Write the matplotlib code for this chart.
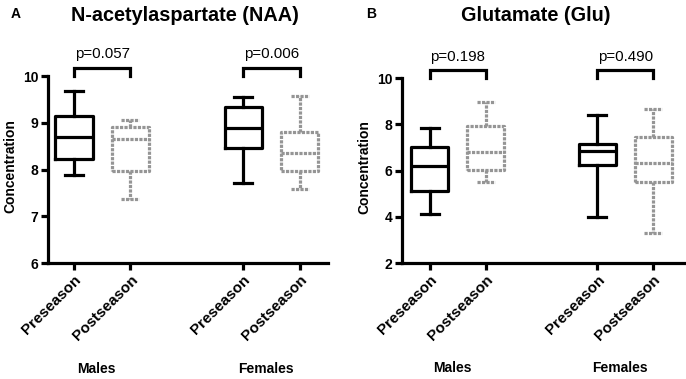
import matplotlib.pyplot as plt
from matplotlib.transforms import ScaledTranslation

plt.rcParams['font.family'] = ['Liberation Sans', 'DejaVu Sans']

groups = ['Males', 'Females']
seasons = ['Preseason', 'Postseason']
positions = [1, 2, 4, 5]

# box stats: (low whisker, Q1, median, Q3, high whisker)
naa_stats = [
    (7.88, 8.22, 8.69, 9.15, 9.69),   # males pre
    (7.38, 7.98, 8.65, 8.92, 9.06),   # males post
    (7.71, 8.47, 8.89, 9.34, 9.56),   # females pre
    (7.59, 7.98, 8.36, 8.80, 9.57),   # females post
]
glu_stats = [
    (4.11, 5.11, 6.20, 7.01, 7.85),
    (5.51, 6.02, 6.81, 7.94, 8.96),
    (3.97, 6.23, 6.85, 7.17, 8.41),
    (3.28, 5.51, 6.32, 7.46, 8.67),
]
naa_p = ['p=0.057', 'p=0.006']
glu_p = ['p=0.198', 'p=0.490']

panels = [
    dict(letter='A', title='N-acetylaspartate (NAA)', stats=naa_stats, pvals=naa_p,
         ylim=(6, 10), yticks=[6, 7, 8, 9, 10],
         rect=[0.070, 0.306, 0.408, 0.493], xlim=(0.54, 5.5),
         letter_x=0.015, title_x=0.270, ylab_x=-0.108),
    dict(letter='B', title='Glutamate (Glu)', stats=glu_stats, pvals=glu_p,
         ylim=(2, 10), yticks=[2, 4, 6, 8, 10],
         rect=[0.586, 0.306, 0.411, 0.488], xlim=(0.5, 5.55),
         letter_x=0.533, title_x=0.781, ylab_x=-0.11),
]

fig = plt.figure(figsize=(6.86, 3.79), dpi=100)

for p in panels:
    ax = fig.add_axes(p['rect'])
    for i, (s, pos) in enumerate(zip(p['stats'], positions)):
        st = [dict(whislo=s[0], q1=s[1], med=s[2], q3=s[3], whishi=s[4], fliers=[])]
        if i % 2 == 0:
            c, ls = 'black', '-'
        else:
            c, ls = '#959595', (0, (1, 0.4))
        lp = dict(color=c, linewidth=2.3, linestyle=ls)
        ax.bxp(st, positions=[pos], widths=0.66, showfliers=False,
               boxprops=lp, whiskerprops=lp, capprops=lp, medianprops=lp,
               capwidths=0.32, manage_ticks=False)

    ax.set_xlim(*p['xlim'])
    ax.set_ylim(*p['ylim'])
    ax.set_yticks(p['yticks'])
    ax.set_xticks(positions)
    ax.set_xticklabels(seasons * 2, rotation=45, ha='right', rotation_mode='anchor',
                       fontweight='bold', fontsize=11)
    shift = ScaledTranslation(5 / 72, 0, fig.dpi_scale_trans)
    for lab in ax.get_xticklabels():
        lab.set_transform(lab.get_transform() + shift)
    for lab in ax.get_yticklabels():
        lab.set_fontweight('bold')
        lab.set_fontsize(10)
    for side in ['top', 'right']:
        ax.spines[side].set_visible(False)
    for side in ['left', 'bottom']:
        ax.spines[side].set_linewidth(2.3)
    ax.tick_params(width=2.3, length=5, pad=2)

    ax.set_ylabel('Concentration', fontweight='bold', fontsize=10)
    ax.yaxis.set_label_coords(p['ylab_x'], 0.52)

    tr = ax.get_xaxis_transform()
    for k, g in enumerate(groups):
        x0, x1 = positions[2 * k], positions[2 * k + 1]
        ax.plot([x0, x0, x1, x1], [1.0, 1.045, 1.045, 1.0], color='black',
                lw=2.3, transform=tr, clip_on=False, solid_joinstyle='miter')
        ax.text((x0 + x1) / 2, 1.095, p['pvals'][k], transform=tr,
                ha='center', va='baseline', fontsize=10.8)
        ax.text((x0 + x1) / 2 - 0.1, -0.565, g, transform=tr, ha='center',
                va='center', fontweight='bold', fontsize=10)

    fig.text(p['letter_x'], 0.962, p['letter'], fontweight='bold', fontsize=10,
             ha='left', va='center')
    fig.text(p['title_x'], 0.958, p['title'], fontweight='bold', fontsize=14.3,
             ha='center', va='center')

fig.savefig('out.png', dpi=100)
